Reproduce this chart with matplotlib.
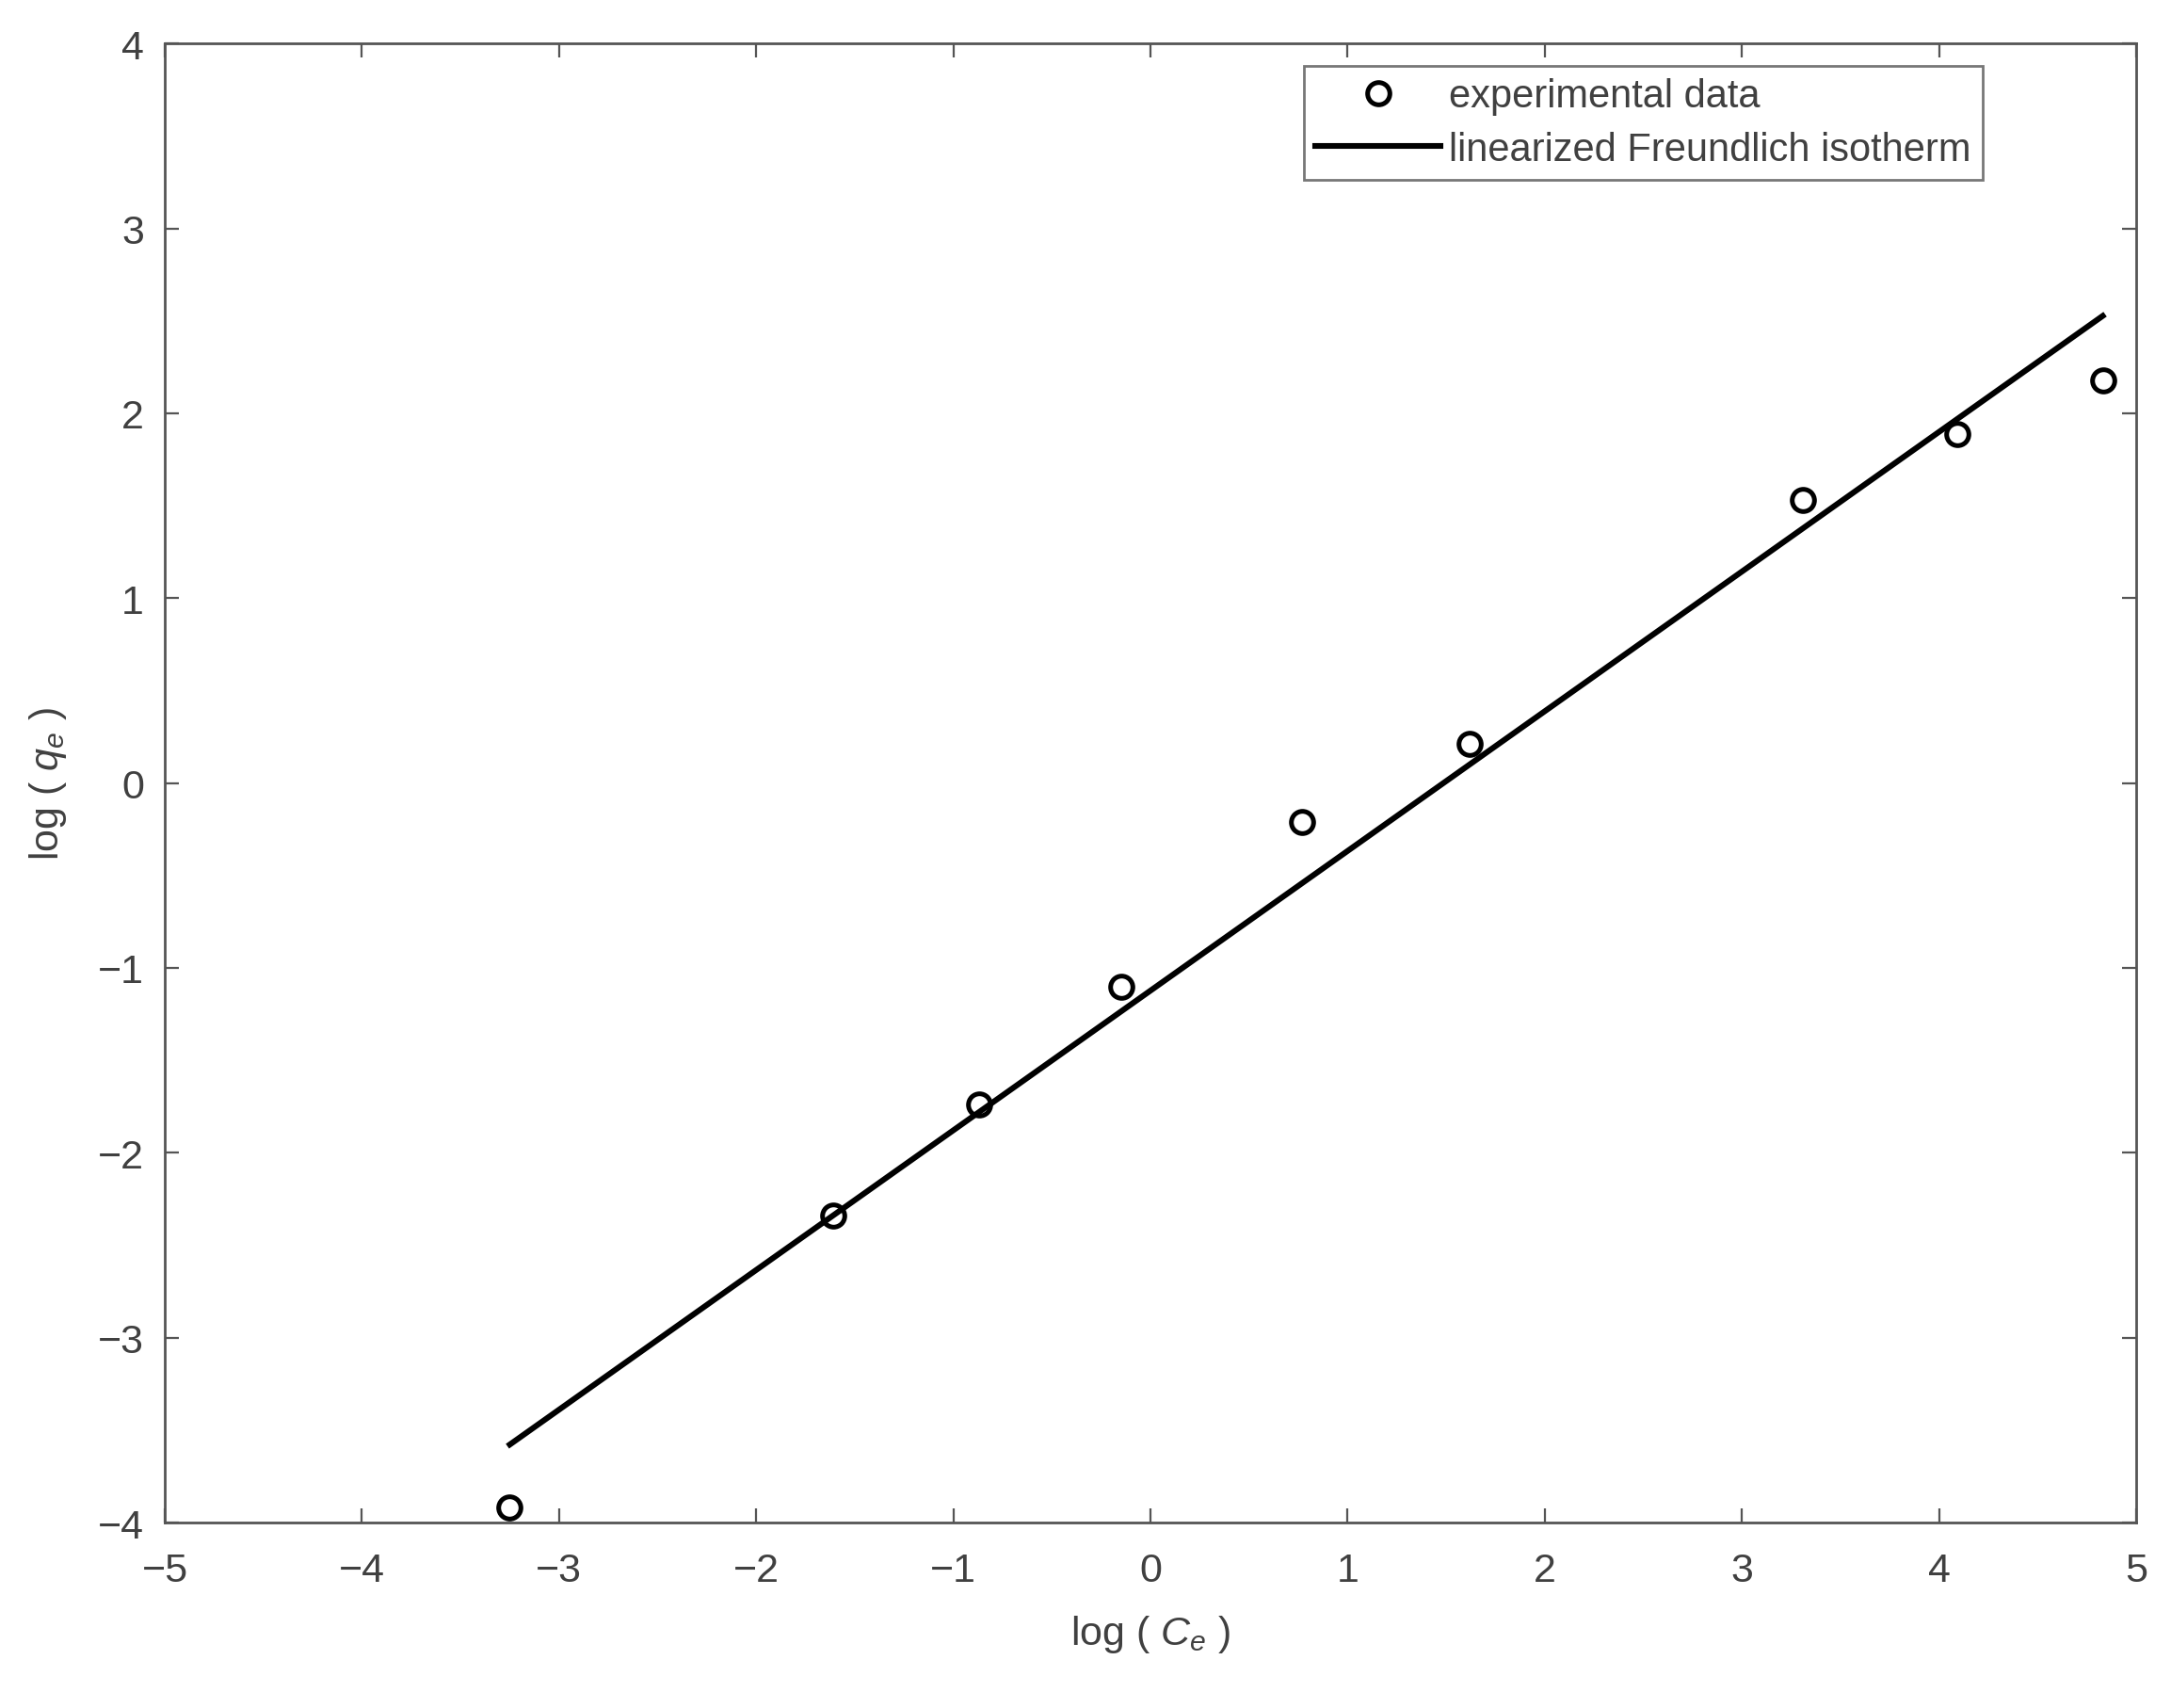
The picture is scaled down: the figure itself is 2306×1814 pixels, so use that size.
import numpy as np
import matplotlib
matplotlib.use("Agg")
import matplotlib.pyplot as plt

# experimental points
log_ce = [-3.25, -1.61, -0.87, -0.15, 0.77, 1.62, 3.31, 4.09, 4.83]
log_qe = [-3.92, -2.34, -1.74, -1.10, -0.21, 0.21, 1.53, 1.89, 2.18]

x_ticks = [-5, -4, -3, -2, -1, 0, 1, 2, 3, 4, 5]
y_ticks = [-4, -3, -2, -1, 0, 1, 2, 3, 4]

plt.rcParams['font.family'] = ['Liberation Sans', 'DejaVu Sans']
plt.rcParams['mathtext.fontset'] = 'custom'
plt.rcParams['mathtext.it'] = 'Liberation Sans:italic'
plt.rcParams['mathtext.rm'] = 'Liberation Sans'

gray = '#555555'
txt = '#404040'

fig = plt.figure(figsize=(2306/200, 1815/200), dpi=200)
ax = fig.add_axes([0.0759, 0.1085, 0.9081, 0.8655])

# linear fit (linearized Freundlich)
slope, icpt = np.polyfit(log_ce, log_qe, 1)
xf = np.array([min(log_ce), max(log_ce)])

ax.plot(log_ce, log_qe, 'o', mfc='none', mec='black', mew=1.8, ms=8.5,
        label='experimental data')
ax.plot(xf, slope*xf + icpt, '-', color='black', lw=2.2,
        label='linearized Freundlich isotherm')

ax.set_xlim(-5, 5)
ax.set_ylim(-4, 4)
ax.set_xticks(x_ticks)
ax.set_yticks(y_ticks)
ax.set_xticklabels([str(t).replace('-', '\u2212') for t in x_ticks])
ax.set_yticklabels([str(t).replace('-', '\u2212') for t in y_ticks])
ax.tick_params(direction='in', length=5.5, width=0.8, color=gray,
               labelcolor=txt, labelsize=15.5, top=True, right=True)
ax.tick_params(axis='x', pad=11)
ax.tick_params(axis='y', pad=8)
for s in ax.spines.values():
    s.set_color(gray)
    s.set_linewidth(1.0)

ax.set_xlabel(r'log ( $C_e$ )', fontsize=15.5, color=txt, labelpad=9)
ax.set_ylabel(r'log ( $q_e$ )', fontsize=15.5, color=txt, labelpad=11)

leg = ax.legend(loc='upper right', bbox_to_anchor=(0.922, 0.985), fontsize=15,
                frameon=True, fancybox=False, edgecolor=gray, handlelength=3.2,
                borderpad=0.3, labelspacing=0.4, handletextpad=0.2,
                borderaxespad=0)
leg.get_frame().set_linewidth(1.0)
for t in leg.get_texts():
    t.set_color(txt)

fig.savefig('out.png', dpi=200, facecolor='white')
